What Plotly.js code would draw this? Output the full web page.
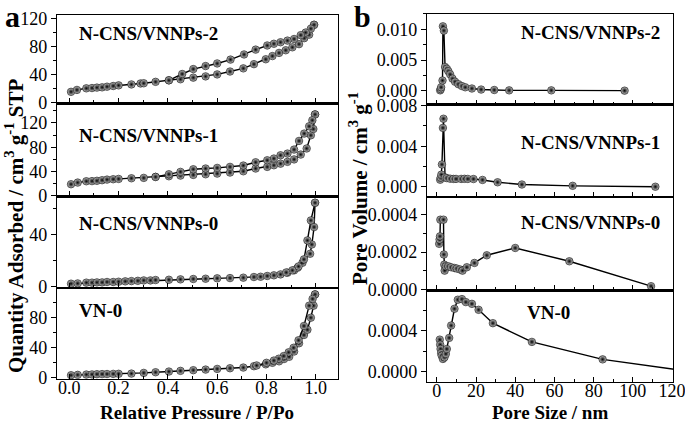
<!DOCTYPE html>
<html>
<head>
<meta charset="utf-8">
<script src="https://cdn.plot.ly/plotly-3.0.1.min.js"></script>
<style>
  html, body { margin: 0; padding: 0; background: #fff; }
  #chart { width: 685px; height: 428px; }
</style>
</head>
<body>
<div id="chart"></div>
<script>
// (a) N2 isotherms: relative pressure vs quantity adsorbed
const sampleNames = ['N-CNS/VNNPs-2', 'N-CNS/VNNPs-1', 'N-CNS/VNNPs-0', 'VN-0'];

const p2Ads = [0.007, 0.031, 0.069, 0.092, 0.112, 0.133, 0.153, 0.178, 0.200, 0.252, 0.289, 0.302, 0.350, 0.404, 0.451, 0.503, 0.553, 0.600, 0.652, 0.706, 0.749, 0.797, 0.824, 0.851, 0.878, 0.905, 0.932, 0.953, 0.973, 0.993];
const q2Ads = [15.6, 18.3, 20.6, 21.0, 21.6, 22.0, 22.9, 23.9, 24.8, 26.1, 27.5, 27.8, 29.8, 32.0, 33.5, 35.8, 37.6, 40.4, 44.5, 49.0, 55.0, 62.0, 66.5, 71.0, 74.8, 79.0, 83.5, 92.0, 97.0, 111.0];
const p2Des = [0.993, 0.980, 0.959, 0.939, 0.912, 0.885, 0.857, 0.830, 0.803, 0.756, 0.709, 0.654, 0.600, 0.553, 0.503, 0.458, 0.404];
const q2Des = [111.0, 105.5, 100.0, 96.3, 90.8, 88.5, 86.2, 84.0, 81.6, 75.7, 68.8, 61.5, 56.0, 52.3, 48.0, 41.0, 32.0];

const p1Ads = [0.007, 0.034, 0.069, 0.092, 0.112, 0.133, 0.153, 0.178, 0.200, 0.252, 0.302, 0.350, 0.404, 0.451, 0.503, 0.553, 0.600, 0.652, 0.706, 0.756, 0.803, 0.830, 0.857, 0.885, 0.912, 0.939, 0.963, 0.980, 0.990, 0.997];
const q1Ads = [19.2, 21.9, 24.1, 24.3, 24.8, 25.8, 26.8, 27.4, 27.9, 29.0, 29.6, 31.2, 32.3, 33.4, 34.5, 35.6, 36.7, 38.4, 40.5, 45.0, 47.7, 50.4, 53.0, 56.0, 60.0, 68.0, 78.0, 99.7, 110.0, 134.0];
const p1Des = [0.997, 0.986, 0.973, 0.953, 0.932, 0.912, 0.885, 0.857, 0.830, 0.803, 0.756, 0.706, 0.652, 0.600, 0.553, 0.503, 0.451, 0.404, 0.350];
const q1Des = [134.0, 124.4, 114.5, 102.5, 90.4, 76.2, 69.6, 66.8, 61.4, 58.6, 55.3, 49.9, 47.7, 46.0, 45.0, 43.8, 39.5, 35.6, 31.2];

const p0Ads = [0.007, 0.034, 0.069, 0.092, 0.112, 0.133, 0.153, 0.178, 0.200, 0.227, 0.252, 0.278, 0.302, 0.329, 0.350, 0.404, 0.451, 0.503, 0.553, 0.600, 0.652, 0.706, 0.749, 0.776, 0.803, 0.830, 0.857, 0.885, 0.912, 0.926, 0.946, 0.977, 0.984, 0.993, 0.997];
const q0Ads = [2.3, 2.5, 3.1, 3.1, 3.3, 3.3, 3.6, 3.6, 3.8, 4.1, 4.3, 4.5, 4.8, 4.8, 5.1, 5.3, 5.6, 5.9, 6.1, 6.4, 6.6, 6.9, 7.4, 7.6, 8.2, 8.7, 9.4, 10.7, 12.5, 14.5, 18.3, 25.2, 32.3, 45.6, 64.2];
const p0Des = [0.997, 0.980, 0.966, 0.952, 0.930, 0.905, 0.880];
const q0Des = [64.2, 50.7, 35.4, 20.9, 15.5, 12.5, 10.9];

const pVAds = [0.007, 0.034, 0.069, 0.092, 0.112, 0.133, 0.153, 0.178, 0.200, 0.252, 0.302, 0.350, 0.404, 0.451, 0.503, 0.553, 0.600, 0.652, 0.706, 0.749, 0.797, 0.824, 0.851, 0.871, 0.892, 0.912, 0.932, 0.952, 0.966, 0.980, 0.991, 0.997];
const qVAds = [3.5, 4.0, 4.4, 4.6, 4.9, 5.0, 5.1, 5.3, 5.4, 5.7, 6.6, 7.5, 8.4, 9.3, 10.2, 11.0, 11.9, 12.8, 13.7, 15.5, 18.0, 20.0, 22.0, 25.0, 28.0, 35.0, 46.0, 57.0, 64.0, 80.0, 96.0, 111.0];
const pVDes = [0.997, 0.987, 0.973, 0.952, 0.930, 0.910, 0.890, 0.870, 0.850, 0.830, 0.800, 0.760];
const qVDes = [111.0, 105.0, 96.0, 69.0, 50.0, 40.0, 34.0, 29.0, 25.5, 23.0, 20.0, 16.5];

// (b) pore size distributions
const d2 = [1.7, 2.0, 2.2, 2.9, 3.1, 3.6, 4.2, 5.1, 5.9, 6.8, 8.0, 9.3, 11.0, 12.8, 14.5, 17.9, 22.6, 29.3, 36.9, 58.4, 95.8];
const v2 = [0.0001, 0.0003, 0.0006, 0.0017, 0.0105, 0.0098, 0.0039, 0.0036, 0.0032, 0.0027, 0.0020, 0.0015, 0.0011, 0.0008, 0.0006, 0.0004, 0.00023, 0.00016, 0.0001, 0.0001, 0.00005];

const d1 = [1.7, 2.0, 2.3, 2.6, 3.1, 3.4, 4.2, 5.1, 6.8, 8.5, 9.8, 12.4, 14.1, 15.8, 18.7, 23.3, 31.0, 43.4, 69.3, 111.5];
const v1 = [0.0007, 0.0009, 0.0012, 0.0022, 0.0058, 0.0067, 0.00093, 0.00086, 0.0008, 0.00078, 0.00078, 0.00078, 0.00079, 0.00078, 0.00077, 0.00068, 0.00045, 0.00023, 0.0001, 0.00001];

const d0 = [1.2, 1.4, 1.6, 1.8, 3.4, 3.6, 3.8, 4.0, 4.6, 5.9, 7.3, 9.0, 10.2, 11.9, 13.1, 15.3, 19.2, 25.5, 40.0, 67.6, 109.3];
const v0 = [0.000244, 0.000267, 0.000284, 0.000373, 0.000373, 0.000187, 0.000133, 0.000101, 0.000124, 0.000124, 0.000119, 0.000115, 0.000112, 0.000107, 0.000101, 0.000119, 0.000142, 0.000183, 0.000222, 0.000151, 0.000018];

const dV = [1.5, 1.7, 1.9, 2.2, 2.5, 3.1, 3.9, 4.6, 5.1, 6.3, 7.3, 9.0, 10.7, 12.8, 14.8, 17.9, 21.3, 28.6, 48.5, 84.6, 135];
const vV = [0.000312, 0.000263, 0.000221, 0.00018, 0.000156, 0.000124, 0.00014, 0.000173, 0.000221, 0.000329, 0.000449, 0.000612, 0.0007, 0.000706, 0.000677, 0.00066, 0.000602, 0.000472, 0.00029, 0.00012, -0.000013];

const FONT = 'Liberation Serif';

function series(x, y, n) {
  const s = n === 1 ? '' : n;
  return {
    x: x, y: y, xaxis: 'x' + s, yaxis: 'y' + s,
    type: 'scatter', mode: 'lines+markers', showlegend: false,
    line: { color: '#000', width: 1.4 },
    marker: {
      size: 7.5, color: '#c8c8c8',
      gradient: { type: 'radial', color: '#000' },
      line: { color: '#000', width: 0.6 }
    }
  };
}

const traces = [
  series(p2Ads, q2Ads, 1), series(p2Des, q2Des, 1),
  series(p1Ads, q1Ads, 2), series(p1Des, q1Des, 2),
  series(p0Ads, q0Ads, 3), series(p0Des, q0Des, 3),
  series(pVAds, qVAds, 4), series(pVDes, qVDes, 4),
  series(d2, v2, 5), series(d1, v1, 6), series(d0, v0, 7), series(dV, vV, 8)
];

const leftX = [0.0832, 0.4934];
const rightX = [0.6234, 0.9825];
const leftY = [[0.7582, 0.965], [0.5409, 0.7582], [0.3271, 0.5409], [0.1145, 0.3271]];
const rightY = [[0.7558, 0.9673], [0.5397, 0.7558], [0.3213, 0.5397], [0.1075, 0.3213]];

const tickFont = { family: FONT, size: 18, color: '#000' };

function xAxis(dom, anchor, range, dtick, minor, labels) {
  return {
    domain: dom, anchor: anchor, range: range,
    showline: true, mirror: true, linecolor: '#000', linewidth: 1.2,
    showgrid: false, zeroline: false,
    ticks: 'inside', ticklen: 5, tickwidth: 1, tickcolor: '#000', dtick: dtick, tick0: 0,
    minor: { ticks: 'inside', ticklen: 3, dtick: minor, tick0: 0, tickcolor: '#000', showgrid: false },
    showticklabels: labels, tickfont: tickFont, tickformat: dtick < 1 ? '.1f' : 'd',
    ticklabelstandoff: -8, ticklabeloverflow: 'allow'
  };
}

function yAxis(dom, anchor, range, dtick, minor, fmt) {
  return {
    domain: dom, anchor: anchor, range: range,
    showline: true, mirror: true, linecolor: '#000', linewidth: 1.2,
    showgrid: false, zeroline: false,
    ticks: 'outside', ticklen: 5, tickwidth: 1, tickcolor: '#000', dtick: dtick, tick0: 0,
    minor: { ticks: 'outside', ticklen: 3, dtick: minor, tick0: 0, tickcolor: '#000', showgrid: false },
    tickfont: tickFont, tickformat: fmt
  };
}

const layout = {
  width: 685, height: 428,
  margin: { l: 0, r: 0, t: 0, b: 0 },
  paper_bgcolor: '#fff', plot_bgcolor: '#fff',
  font: { family: FONT, color: '#000' },

  xaxis: xAxis(leftX, 'y', [-0.05, 1.09], 0.2, 0.1, false),
  xaxis2: xAxis(leftX, 'y2', [-0.05, 1.09], 0.2, 0.1, false),
  xaxis3: xAxis(leftX, 'y3', [-0.05, 1.09], 0.2, 0.1, false),
  xaxis4: xAxis(leftX, 'y4', [-0.05, 1.09], 0.2, 0.1, true),
  yaxis: yAxis(leftY[0], 'x', [-1, 125], 40, 20, 'd'),
  yaxis2: yAxis(leftY[1], 'x2', [-1, 152], 40, 20, 'd'),
  yaxis3: yAxis(leftY[2], 'x3', [-1, 69], 40, 20, 'd'),
  yaxis4: yAxis(leftY[3], 'x4', [-1.5, 119.5], 40, 20, 'd'),

  xaxis5: xAxis(rightX, 'y5', [-5, 120.5], 20, 10, false),
  xaxis6: xAxis(rightX, 'y6', [-5, 120.5], 20, 10, false),
  xaxis7: xAxis(rightX, 'y7', [-5, 120.5], 20, 10, false),
  xaxis8: xAxis(rightX, 'y8', [-5, 120.5], 20, 10, true),
  yaxis5: yAxis(rightY[0], 'x5', [-0.0022, 0.0125], 0.005, 0.0025, '.3f'),
  yaxis6: yAxis(rightY[1], 'x6', [-0.001, 0.0081], 0.004, 0.002, '.3f'),
  yaxis7: yAxis(rightY[2], 'x7', [-0.000005, 0.000494], 0.0002, 0.0001, '.4f'),
  yaxis8: yAxis(rightY[3], 'x8', [-0.0001, 0.00079], 0.0004, 0.0002, '.4f'),

  annotations: []
};

function note(text, x, y, size, xanchor, angle) {
  layout.annotations.push({
    text: text, xref: 'paper', yref: 'paper', x: x / 685, y: 1 - y / 428,
    xanchor: xanchor || 'center', yanchor: 'middle', showarrow: false,
    textangle: angle || 0,
    font: { family: FONT, size: size, color: '#000', weight: 'bold' }
  });
}

// panel letters
note('<b>a</b>', 12, 16, 30);
note('<b>b</b>', 362, 16, 30);

// axis titles
note('<b>Quantity Adsorbed / cm<sup>3</sup> g<sup>-1</sup> STP</b>', 14, 226, 21, 'center', -90);
note('<b>Pore Volume / cm<sup>3</sup> g<sup>-1</sup></b>', 358, 189, 21, 'center', -90);
note('<b>Relative Pressure / P/Po</b>', 197, 412, 19);
note('<b>Pore Size / nm</b>', 550, 412, 19);

// sample labels
const leftLabelY = [33, 135, 223, 310];
const rightLabelY = [32, 142, 222, 312];
sampleNames.forEach((name, i) => {
  note('<b>' + name + '</b>', 77, leftLabelY[i], 19, 'left');
  if (name === 'VN-0') note('<b>' + name + '</b>', 548, rightLabelY[i], 19);
  else note('<b>' + name + '</b>', 662, rightLabelY[i], 19, 'right');
});

Plotly.newPlot('chart', traces, layout, { displayModeBar: false, staticPlot: true });
</script>
</body>
</html>
